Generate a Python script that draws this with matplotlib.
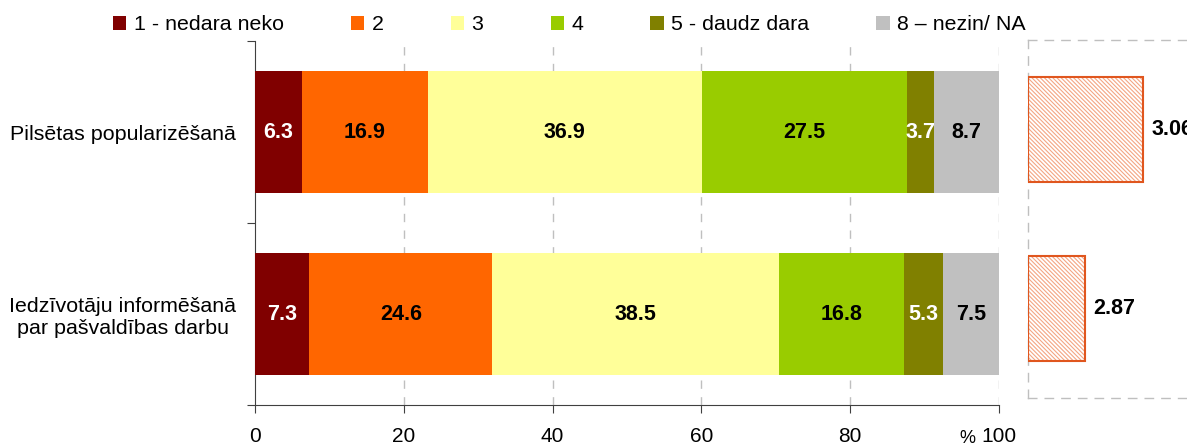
import matplotlib
matplotlib.use('Agg')
import matplotlib.pyplot as plt
import numpy as np

plt.rcParams['font.family'] = ['Liberation Sans', 'DejaVu Sans']
plt.rcParams['hatch.linewidth'] = 0.8

# data
categories = ['Pilsētas popularizēšanā', 'Iedzīvotāju informēšanā\npar pašvaldības darbu']
series_labels = ['1 - nedara neko', '2', '3', '4', '5 - daudz dara', '8 – nezin/ NA']
s1 = [6.3, 7.3]
s2 = [16.9, 24.6]
s3 = [36.9, 38.5]
s4 = [27.5, 16.8]
s5 = [3.7, 5.3]
s8 = [8.7, 7.5]
means = [3.06, 2.87]
mean_axis_min = 2.683
x_ticks = [0, 20, 40, 60, 80, 100]

colors = ['#800000', '#FF6600', '#FFFF99', '#99CC00', '#808000', '#C0C0C0']
text_colors = ['white', 'black', 'black', 'black', 'white', 'black']

W, H = 1187, 445
fig = plt.figure(figsize=(W / 100, H / 100), dpi=100)
ax = fig.add_axes([255 / W, 1 - 405 / H, 744 / W, 364 / H])
ax2 = fig.add_axes([1028 / W, 1 - 398 / H, 177 / W, 358 / H])

y = np.arange(len(categories))
left = np.zeros(len(categories))
handles = []
for i, vals in enumerate([s1, s2, s3, s4, s5, s8]):
    b = ax.barh(y, vals, left=left, height=0.67, color=colors[i], label=series_labels[i], zorder=3)
    handles.append(b)
    for j, v in enumerate(vals):
        ax.text(left[j] + v / 2, y[j], f'{v:.1f}', ha='center', va='center',
                fontsize=15.5, fontweight='bold', color=text_colors[i], zorder=4)
    left += np.array(vals)

ax.set_xlim(0, 100)
ax.set_ylim(1.5, -0.5)
ax.set_xticks(x_ticks)
ax.set_xticklabels([str(t) for t in x_ticks], fontsize=15)
ax.tick_params(axis='x', direction='out', length=6, pad=10, color='#404040')
ax.set_yticks([-0.5, 0.5, 1.5])
ax.set_yticklabels([])
ax.tick_params(axis='y', which='major', direction='out', length=6, color='#404040')
ax.set_yticks(y, minor=True)
ax.set_yticklabels(categories, minor=True, fontsize=15.4, multialignment='center')
ax.tick_params(axis='y', which='minor', length=0, pad=13.5)
for t in x_ticks[1:]:
    ax.axvline(t, color='#BFBFBF', linestyle=(0, (6, 6)), linewidth=1, zorder=1)
for s in ['top', 'right']:
    ax.spines[s].set_visible(False)
ax.spines['left'].set_color('#404040')
ax.spines['bottom'].set_color('#404040')
ax.annotate('%', xy=(100, 0), xycoords=('data', 'axes fraction'), xytext=(-17, -18),
            textcoords='offset points', ha='right', va='top', fontsize=13)

# mean panel
ax2.barh(y, np.array(means) - mean_axis_min, left=mean_axis_min, height=0.59,
         color='white', edgecolor='#F4A583', hatch='\\\\\\\\\\\\\\\\', linewidth=0, zorder=2)
ax2.barh(y, np.array(means) - mean_axis_min, left=mean_axis_min, height=0.59,
         fill=False, edgecolor='#E0561E', linewidth=1.5, zorder=3)
for j, m in enumerate(means):
    ax2.annotate(f'{m:.2f}', xy=(m, y[j]), xytext=(6, 0), textcoords='offset points',
                 ha='left', va='center', fontsize=15.5, fontweight='bold', annotation_clip=False)
ax2.set_xlim(mean_axis_min, mean_axis_min + 177 / 305)
ax2.set_ylim(1.5, -0.5)
ax2.set_xticks([])
ax2.set_yticks([])
for s in ax2.spines.values():
    s.set_color('#BFBFBF')
    s.set_linestyle((0, (6, 6)))
    s.set_linewidth(1)

fig.legend(handles=handles, labels=series_labels, loc='center left',
           bbox_to_anchor=(113 / W, 1 - 25 / H), ncol=6, frameon=False,
           fontsize=15.4, handlelength=0.63, handleheight=0.63, handletextpad=0.33,
           columnspacing=3.15, borderpad=0, borderaxespad=0)

fig.savefig('out.png', dpi=100)
